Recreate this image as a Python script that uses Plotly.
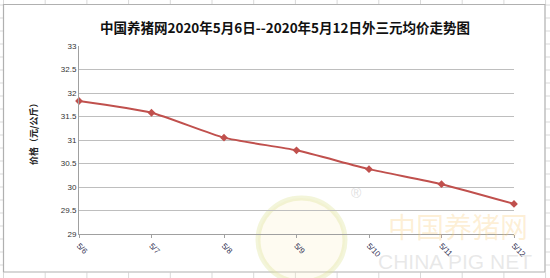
import plotly.graph_objects as go

categories = ["5/6", "5/7", "5/8", "5/9", "5/10", "5/11", "5/12"]
prices = [31.83, 31.58, 31.05, 30.78, 30.38, 30.06, 29.64]
y_ticks = [29, 29.5, 30, 30.5, 31, 31.5, 32, 32.5, 33]
y_tick_labels = ["29", "29.5", "30", "30.5", "31", "31.5", "32", "32.5", "33"]
title_text = "中国养猪网2020年5月6日--2020年5月12日外三元均价走势图"
y_title = "价格（元/公斤）"

W, H = 550, 278
L, R, T, B = 79, 514, 46, 234

def px(x):
    return (x - L) / (R - L)

def py(y):
    return (B - y) / (B - T)

fig = go.Figure()
fig.add_trace(go.Scatter(
    x=list(range(len(categories))), y=prices, mode="lines+markers",
    line=dict(color="#C0504D", width=2, shape="spline", smoothing=0.6),
    marker=dict(symbol="diamond", size=6, color="#C0504D"),
    hoverinfo="skip", showlegend=False, cliponaxis=False,
))

shapes = []
cell_col = "#D9D9D9"
x = 3.5
while x < W:
    shapes.append(dict(type="line", xref="paper", yref="paper", x0=px(x), x1=px(x), y0=py(0), y1=py(4.5), line=dict(color=cell_col, width=1), layer="below"))
    shapes.append(dict(type="line", xref="paper", yref="paper", x0=px(x), x1=px(x), y0=py(272.5), y1=py(H), line=dict(color=cell_col, width=1), layer="below"))
    x += 41.7
y = 5
while y < H:
    shapes.append(dict(type="line", xref="paper", yref="paper", x0=px(0), x1=px(3.5), y0=py(y), y1=py(y), line=dict(color=cell_col, width=1), layer="below"))
    shapes.append(dict(type="line", xref="paper", yref="paper", x0=px(545.5), x1=px(W), y0=py(y), y1=py(y), line=dict(color=cell_col, width=1), layer="below"))
    y += 13
shapes.append(dict(type="rect", xref="paper", yref="paper", x0=px(3.5), x1=px(545), y0=py(272), y1=py(4.5),
                   line=dict(color="#B0B0B0", width=1.2), fillcolor="rgba(0,0,0,0)", layer="below"))
shapes.append(dict(type="circle", xref="paper", yref="paper", x0=px(258), x1=px(345), y0=py(282), y1=py(198),
                   line=dict(color="rgba(220,225,150,0.35)", width=5), fillcolor="rgba(250,240,200,0.25)", layer="below"))

annotations = [
    dict(text="中国养猪网", xref="paper", yref="paper", x=px(458), y=py(226), showarrow=False,
         font=dict(family="Noto Sans CJK SC", size=28, color="rgba(248,200,110,0.28)"), xanchor="center", yanchor="middle"),
    dict(text="CHINA PIG NET", xref="paper", yref="paper", x=px(455), y=py(261), showarrow=False,
         font=dict(family="Liberation Sans", size=21, color="rgba(190,190,190,0.35)"), xanchor="center", yanchor="middle"),
    dict(text="®", xref="paper", yref="paper", x=px(356), y=py(193), showarrow=False,
         font=dict(family="Liberation Sans", size=14, color="rgba(190,190,190,0.5)"), xanchor="center", yanchor="middle"),
    dict(text="<b>" + y_title + "</b>", xref="paper", yref="paper", x=px(33), y=py(132), showarrow=False,
         textangle=-90, font=dict(family="Noto Sans CJK SC", size=9, color="#222222"), xanchor="center", yanchor="middle"),
]

fig.update_layout(
    width=W, height=H, margin=dict(l=L, r=W - R, t=T, b=H - B),
    paper_bgcolor="white", plot_bgcolor="white",
    title=dict(text="<b>" + title_text + "</b>", xref="container", x=285 / W, xanchor="center",
               yref="container", y=1 - 28 / H, yanchor="middle",
               font=dict(family="Noto Sans CJK SC", size=13.5, color="#111111")),
    xaxis=dict(range=[0, len(categories) - 1], tickvals=list(range(len(categories))), ticktext=categories,
               tickangle=45, ticks="outside", ticklen=3, tickcolor="#A0A0A0", showgrid=False,
               showline=True, linecolor="#A0A0A0", linewidth=1, zeroline=False,
               tickfont=dict(family="Liberation Sans", size=8, color="#333355"), fixedrange=True),
    yaxis=dict(range=[29, 33], tickvals=y_ticks, ticktext=y_tick_labels, showgrid=True, gridcolor="#BEBEBE",
               gridwidth=1, showline=True, linecolor="#A0A0A0", linewidth=1, zeroline=False, ticks="",
               tickfont=dict(family="Liberation Sans", size=8, color="#333333"), fixedrange=True),
    shapes=shapes, annotations=annotations,
)

fig.write_html("out.html")
